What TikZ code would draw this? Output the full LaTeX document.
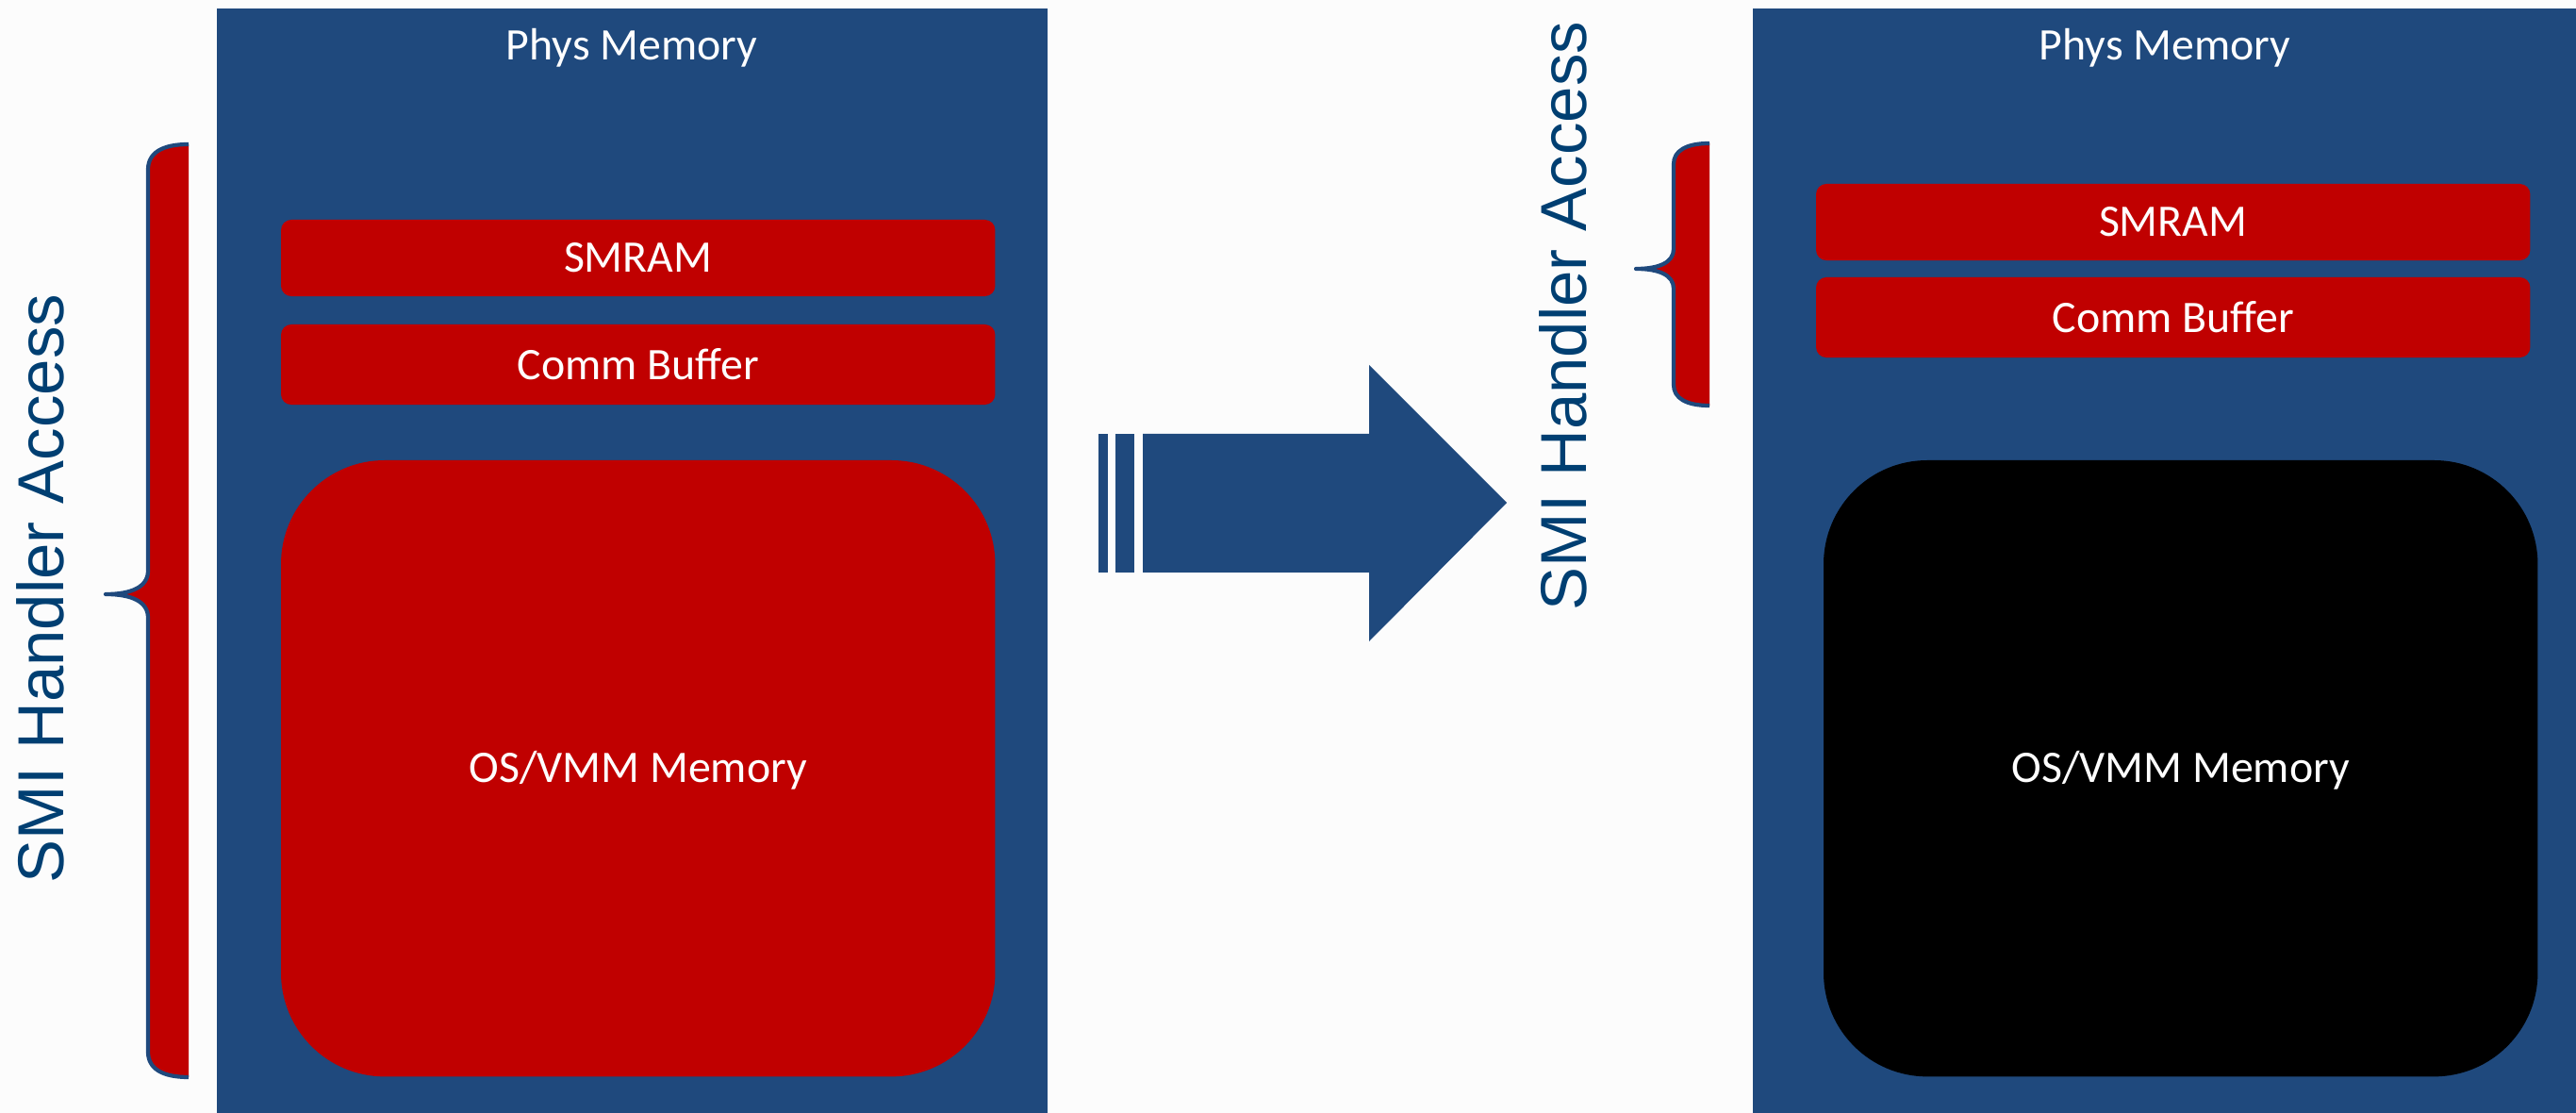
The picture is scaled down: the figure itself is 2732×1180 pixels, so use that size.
\documentclass[tikz,border=0pt]{standalone}
\usepackage{fontspec}
\setmainfont{Carlito}
\newfontfamily\arialfont{Liberation Sans}
\definecolor{bgc}{HTML}{FCFCFC}
\definecolor{panelblue}{HTML}{1F497D}
\definecolor{memred}{HTML}{C00000}
\definecolor{txtblue}{RGB}{0,63,114}
\tikzset{
  panel/.style={fill=panelblue, draw=none, inner sep=0pt, outer sep=0pt, anchor=north west, minimum height=11.71cm},
  membox/.style={fill=memred, draw=none, inner sep=0pt, outer sep=0pt, anchor=north west, rounded corners=0.11cm,
     text=white, font=\fontsize{13.6}{16}\selectfont, minimum width=7.57cm},
  bigbox/.style={membox, rounded corners=1.1cm, minimum height=6.53cm},
  paneltitle/.style={text=white, font=\fontsize{13.6}{16}\selectfont, inner sep=0pt},
  accesslabel/.style={text=txtblue, font=\arialfont\fontsize{19.6}{22}\selectfont, rotate=90, inner sep=0pt},
  bracefill/.style={fill=memred, draw=none},
  braceline/.style={draw=panelblue, line width=1.2pt, line join=round},
  bigarrow/.style={fill=panelblue, draw=none}
}
\begin{document}
\begin{tikzpicture}[x=0.01cm, y=-0.01cm]
\path[fill=bgc] (0,0) rectangle (2732,1180);
\useasboundingbox (0,0) rectangle (2732,1180);

% left panel
\node[panel, minimum width=8.8cm] (lp) at (230,9) {};
\node[paneltitle] (lpt) at (670,51) {Phys Memory};
\node[membox, minimum height=0.81cm] (lsm) at (298,233) {SMRAM};
\node[membox, minimum height=0.85cm] (lcb) at (298,344) {Comm Buffer};
\node[bigbox, text depth=0.03cm] (los) at (298,488) {OS/VMM Memory};

% right panel
\node[panel, minimum width=8.73cm] (rp) at (1859,9) {};
\node[paneltitle] (rpt) at (2296,51) {Phys Memory};
\node[membox, minimum height=0.81cm] (rsm) at (1926,195) {SMRAM};
\node[membox, minimum height=0.85cm] (rcb) at (1926,294) {Comm Buffer};
\node[bigbox, fill=black, text depth=0.03cm] (ros) at (1934,488) {OS/VMM Memory};

% left brace
\path[bracefill] (200,153) .. controls (172,153) and (157,162) .. (157,180) -- (157,605)
   .. controls (157,622) and (140,630) .. (112,630) .. controls (140,630) and (157,638) .. (157,655)
   -- (157,1115) .. controls (157,1133) and (172,1142) .. (200,1142) -- cycle;
\path[braceline] (200,153) .. controls (172,153) and (157,162) .. (157,180) -- (157,605)
   .. controls (157,622) and (140,630) .. (112,630) .. controls (140,630) and (157,638) .. (157,655)
   -- (157,1115) .. controls (157,1133) and (172,1142) .. (200,1142);
\node[accesslabel] (lacc) at (43,624) {SMI Handler Access};

% right brace
\path[bracefill] (1813,152) .. controls (1788,152) and (1775,160) .. (1775,174) -- (1775,264)
   .. controls (1775,278) and (1760,285) .. (1735,285) .. controls (1760,285) and (1775,292) .. (1775,306)
   -- (1775,408) .. controls (1775,422) and (1788,430) .. (1813,430) -- cycle;
\path[braceline] (1813,152) .. controls (1788,152) and (1775,160) .. (1775,174) -- (1775,264)
   .. controls (1775,278) and (1760,285) .. (1735,285) .. controls (1760,285) and (1775,292) .. (1775,306)
   -- (1775,408) .. controls (1775,422) and (1788,430) .. (1813,430);
\node[accesslabel] (racc) at (1658,335) {SMI Handler Access};

% big arrow
\path[bigarrow] (1165,460) rectangle (1175,607);
\path[bigarrow] (1183,460) rectangle (1203,607);
\path[bigarrow] (1212,460) -- (1452,460) -- (1452,387) -- (1598,533) -- (1452,680) -- (1452,607) -- (1212,607) -- cycle;
\end{tikzpicture}
\end{document}
